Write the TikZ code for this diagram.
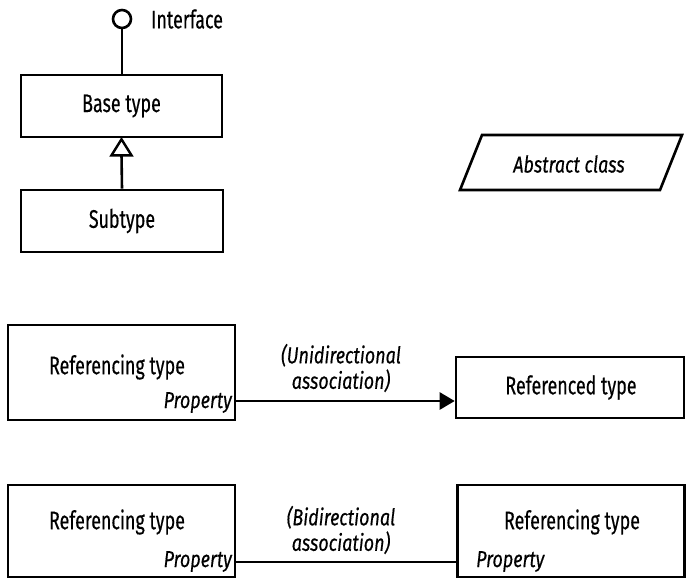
\documentclass[tikz,border=0pt]{standalone}
\usepackage{fontspec}
\setmainfont{Fira Sans}[FakeStretch=0.70, FakeBold=0.4]
\newfontfamily\itfam{Fira Sans}[FakeStretch=0.78, FakeBold=0.4]
\usetikzlibrary{arrows.meta}
\tikzset{
  box/.style={draw, line width=2.6pt, inner sep=0pt},
  lbl/.style={inner sep=0pt, font=\fontsize{25.5}{28}\selectfont},
  ilbl/.style={inner sep=0pt, font=\itfam\fontsize{23}{25.5}\selectfont\itshape, align=center},
  conn/.style={line width=2.6pt},
}
\begin{document}
\begin{tikzpicture}[x=1pt,y=-1pt]
\useasboundingbox (0,0) rectangle (687,582);
% Interface / base / subtype
\node[draw, circle, line width=2.6pt, minimum size=18pt, inner sep=0pt] (iface) at (122,19) {};
\node[lbl, anchor=west] (ifacet) at (151,19) {Interface};
\node[box, minimum width=201pt, minimum height=62pt] (base) at (121.5,106) {};
\node[lbl] (baset) at (121.5,106) {Base type};
\node[box, minimum width=202pt, minimum height=62pt] (sub) at (122,221) {};
\node[lbl] (subt) at (122,221) {Subtype};
\draw[conn] (iface) -- (base.north -| iface);
\draw[conn] (sub.north) -- ([yshift=-16pt]base.south);
\draw[line width=2.4pt, line join=miter, fill=white] ([yshift=-1pt]base.south) -- ++(-10,16) -- ++(20,0) -- cycle;
% Abstract class
\coordinate (abl) at (460,190);
\coordinate (abr) at (660,190);
\coordinate (atr) at (682,135);
\coordinate (atl) at (482,135);
\draw[line width=2.6pt] (abl) -- (abr) -- (atr) -- (atl) -- cycle;
\node[ilbl] (abst) at (569,164) {Abstract class};
% Unidirectional
\node[box, minimum width=227pt, minimum height=95pt] (ref1) at (121.5,372.5) {};
\node[lbl] (ref1t) at (117,367) {Referencing type};
\node[ilbl, anchor=base east] (prop1) at (232,408) {Property};
\node[box, minimum width=228pt, minimum height=61pt] (refd) at (570,387.5) {};
\node[lbl] (refdt) at (571,387.5) {Referenced type};
\coordinate (u) at (300,401);
\draw[conn, -{Triangle[length=15pt, width=17pt]}] (ref1.east |- u) -- (refd.west |- u);
\node[ilbl] (uni) at (341,368) {(Unidirectional\\association)};
% Bidirectional
\node[box, minimum width=227pt, minimum height=92pt] (ref2) at (121.5,531) {};
\node[lbl] (ref2t) at (117,522) {Referencing type};
\node[ilbl, anchor=base east] (prop2) at (232,567) {Property};
\node[box, minimum width=227pt, minimum height=92pt] (ref3) at (571,531) {};
\node[lbl] (ref3t) at (572,522) {Referencing type};
\node[ilbl, anchor=base west] (prop3) at (476,567) {Property};
\coordinate (b) at (300,562);
\draw[conn] (ref2.east |- b) -- (ref3.west |- b);
\node[ilbl] (bi) at (341,530) {(Bidirectional\\association)};
\end{tikzpicture}
\end{document}
